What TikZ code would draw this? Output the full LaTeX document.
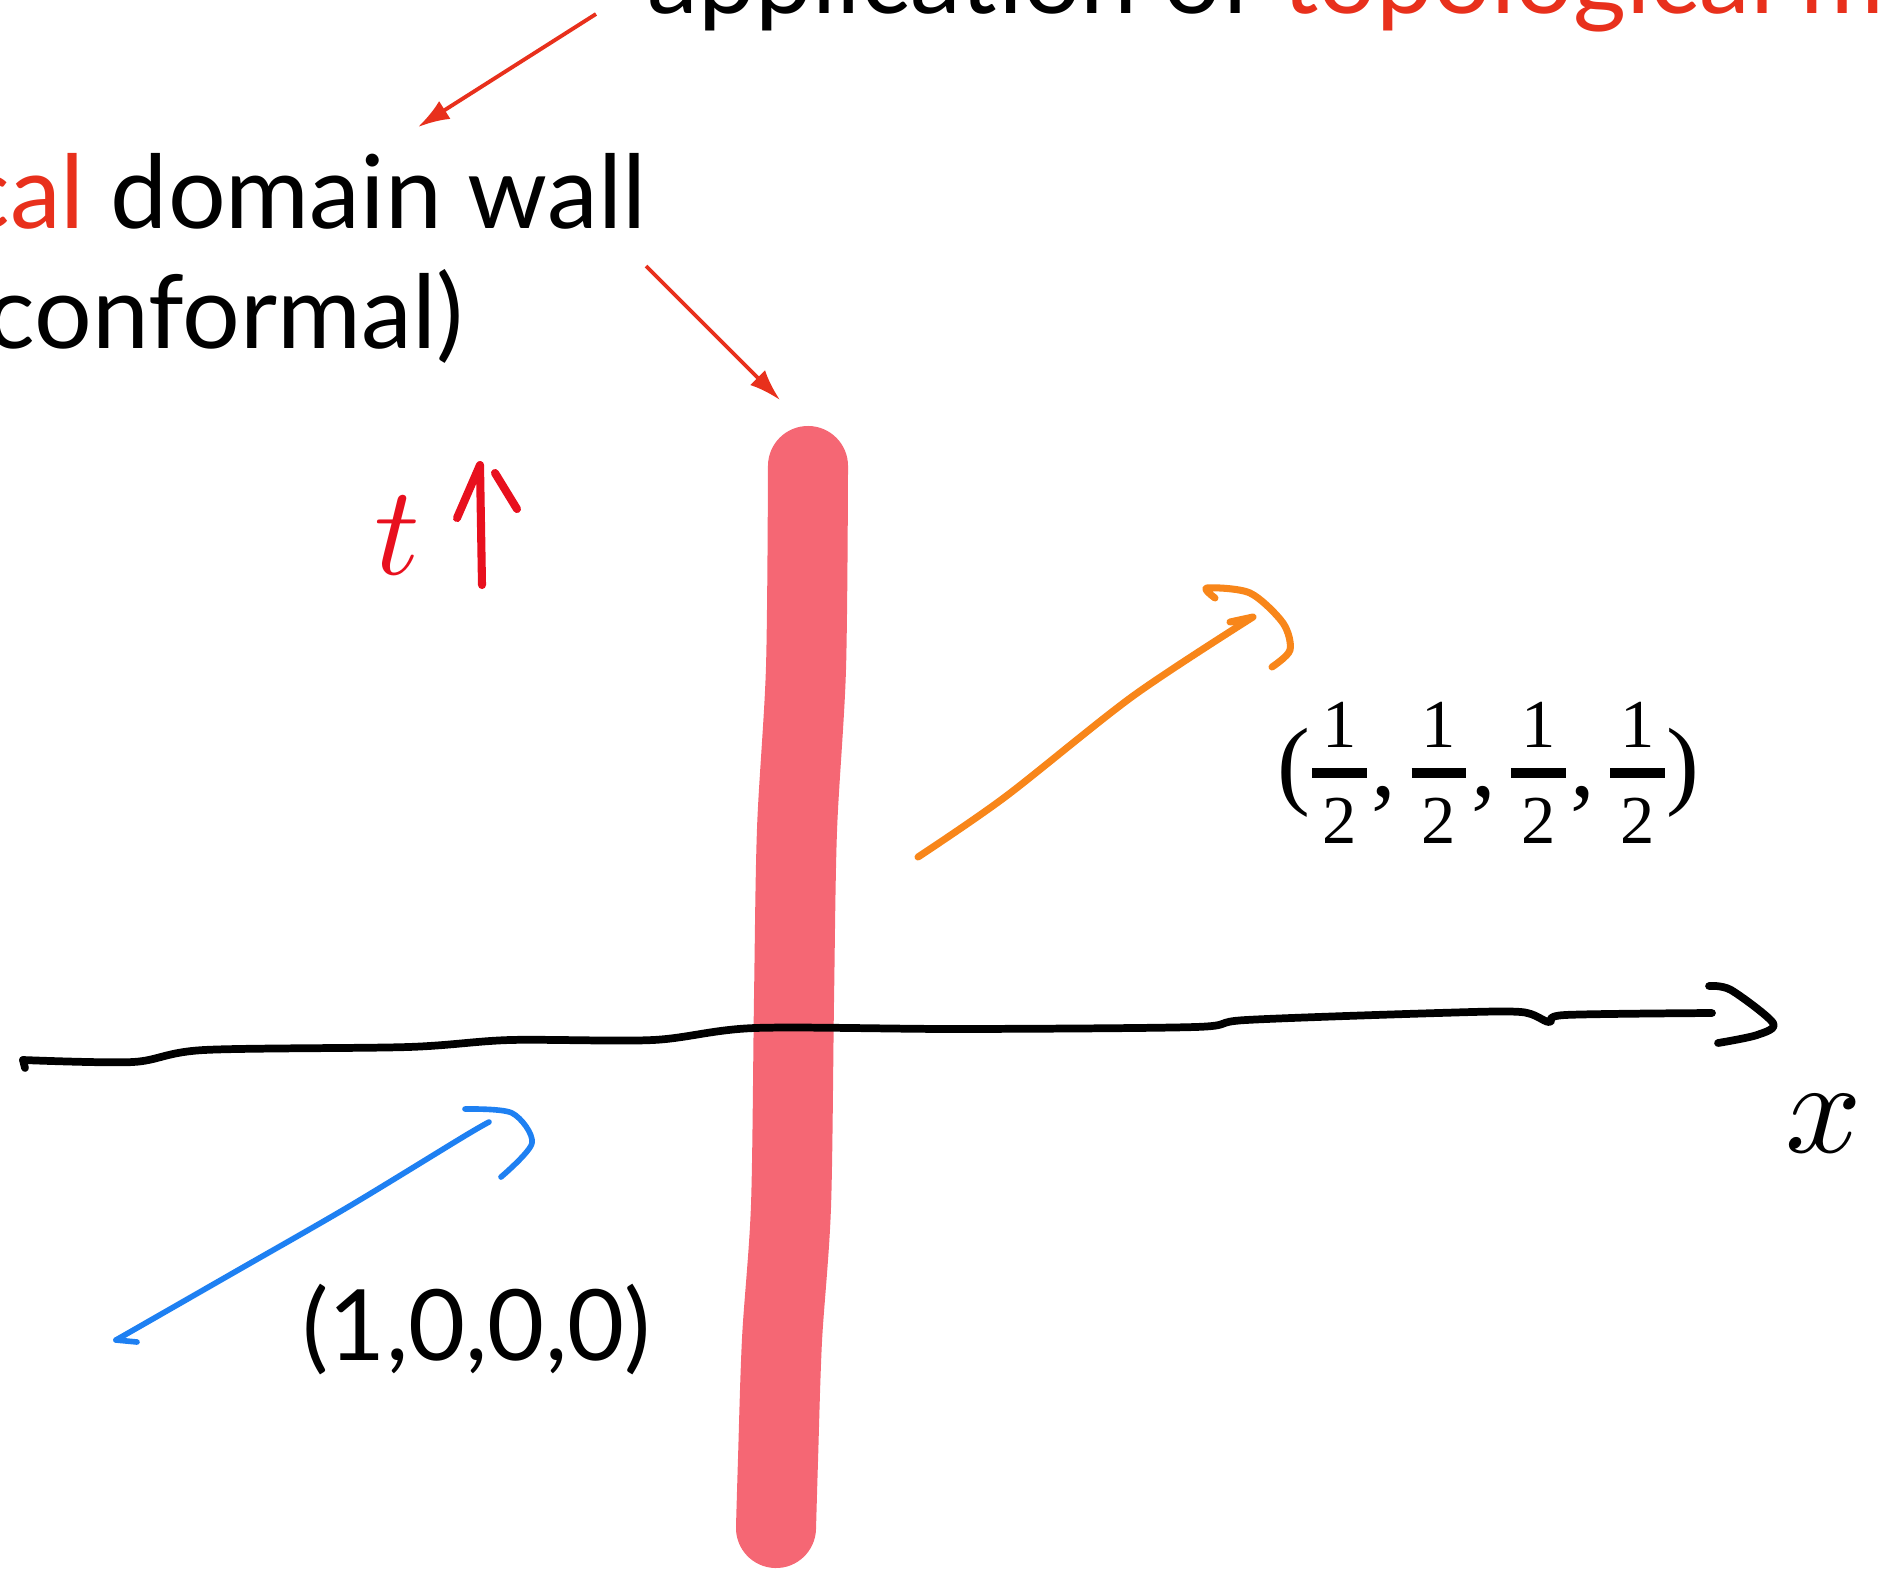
\documentclass[tikz,border=0pt]{standalone}
\usepackage{fontspec}
\setmainfont{Lato}
\newfontfamily\fracfont{Liberation Serif}
\usetikzlibrary{arrows.meta}
\tikzset{>=latex}
\definecolor{textred}{HTML}{E8301C}
\definecolor{penred}{HTML}{E8101E}
\definecolor{wallcol}{HTML}{F56774}
\definecolor{penorange}{HTML}{F8861A}
\definecolor{penblue}{HTML}{1E80F2}
\tikzstyle{pointer}=[textred,line width=1.1pt,-{Latex[length=9pt,width=6pt]}]
\tikzstyle{wall}=[wallcol,line width=0.8cm,line cap=round]
\tikzstyle{pen}=[line width=2pt,line cap=round,line join=round]
\tikzstyle{label}=[inner sep=0pt,font=\fontsize{29}{35}\selectfont]
% one half, set by hand
\def\halfdigit#1{\hbox{\fontsize{19.5}{20}\selectfont\kern2.9pt #1\kern2.9pt}}
\def\half{\raisebox{-13.4pt}{\vbox{\halfdigit{1}\kern5.7pt
  \hrule height 2.85pt\kern5.7pt\halfdigit{2}}}}

\begin{document}
\begin{tikzpicture}[x=0.01cm,y=-0.01cm]
  \useasboundingbox (0,0) rectangle (1881,1572);
  \clip (0,0) rectangle (1881,1572);
  % texts
  \node[label,anchor=base west] (appl) at (647,13)
    {application of \textcolor{textred}{topological me}};
  \node[label,anchor=base east] (wallname) at (647,228)
    {\textcolor{textred}{cal} domain wall};
  \node[label,anchor=base west] (conf) at (-14,348) {conformal)};
  \node[label,anchor=base west,font=\fontsize{28}{33}\selectfont] (inv) at (302,1360) {(1,0,0,0)};
  \node[inner sep=0pt,anchor=base west,font=\fracfont\fontsize{28}{34}\selectfont] (outv) at (1277,796)
    {(\kern0.5pt\half\kern1.4pt,\kern4.3pt\half\kern1.4pt,\kern4.3pt\half\kern1.4pt,\kern4.3pt\half\kern0.5pt)};
  \node[penred,scale=3.6,inner sep=0pt] (tlab) at (397,536) {$t$};
  \node[scale=3.8,inner sep=0pt] (xlab) at (1824,1124) {$x$};
  % pointers from the texts
  \coordinate (p1s) at (596,14);   \coordinate (p1e) at (418,127);
  \coordinate (p2s) at (646,266);  \coordinate (p2e) at (780,400);
  \draw[pointer] (p1s) -- (p1e);
  \draw[pointer] (p2s) -- (p2e);
  % domain wall
  \draw[wall] plot[smooth] coordinates {(808,466) (806,668) (797,830) (794,1000)
    (791,1206) (782,1340) (778,1460) (776,1528)};
  % x axis
  \coordinate (xbeg) at (23,1060); \coordinate (xend) at (1712,1013);
  \draw[pen,line width=2.2pt] (25,1068) -- (xbeg);
  \draw[pen,line width=2.2pt] plot[smooth] coordinates {(xbeg) (133,1062) (204,1050) (408,1047)
    (510,1040) (653,1040) (755,1028) (959,1029) (1195,1027) (1246,1020)
    (1438,1013) (1521,1012) (1549,1022) (1565,1015) (xend)};
  \draw[pen,line width=2.2pt] plot[smooth] coordinates {(1709,986) (1731,990) (1773,1023) (1757,1035) (1718,1043)};
  % time arrow
  \coordinate (tbeg) at (482,585); \coordinate (ttip) at (480,465);
  \draw[pen,penred,line width=2.3pt] (tbeg) -- (ttip) -- (457,518);
  \draw[pen,penred,line width=2.3pt] (495,473) -- (517,509);
  % outgoing wave
  \coordinate (obeg) at (918,857); \coordinate (otip) at (1253,617);
  \draw[pen,penorange] plot[smooth] coordinates {(obeg) (1005,797) (1133,696) (otip)} -- (1230,622);
  \draw[pen,penorange] plot[smooth] coordinates {(1215,598) (1207,588) (1250,593) (1283,623) (1290,650) (1272,667)};
  % incoming wave
  \coordinate (ibeg) at (116,1340); \coordinate (itip) at (489,1122);
  \draw[pen,penblue,line width=1.6pt] (137,1342) -- (ibeg);
  \draw[pen,penblue,line width=1.6pt] plot[smooth] coordinates {(ibeg) (233,1273) (348,1207) (463,1137) (itip)};
  \draw[pen,penblue,line width=1.6pt] plot[smooth] coordinates {(465,1109) (512,1113) (532,1143) (501,1177)};
\end{tikzpicture}
\end{document}
